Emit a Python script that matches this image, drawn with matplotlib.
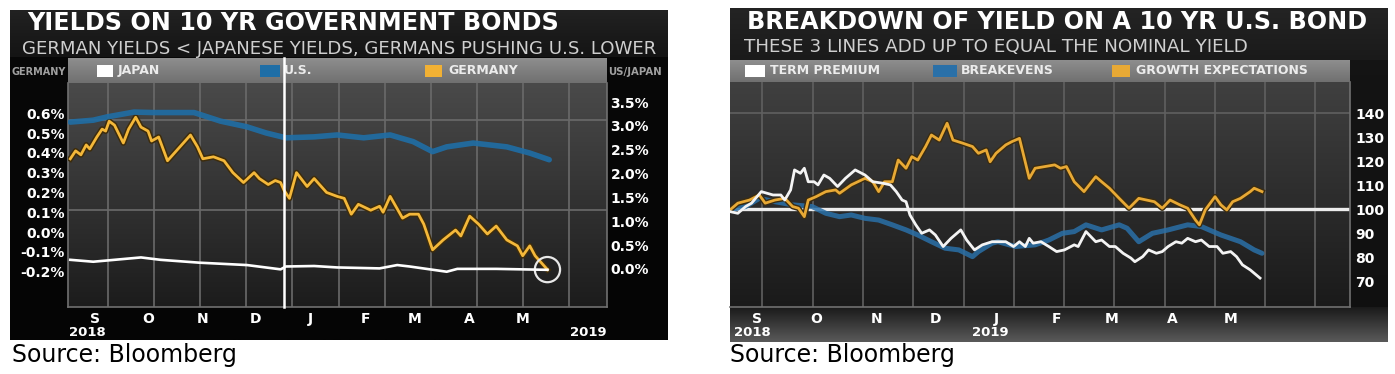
import numpy as np
import pandas as pd
import matplotlib
matplotlib.use('Agg')
import matplotlib.pyplot as plt
import matplotlib.patheffects as pe
from matplotlib.colors import LinearSegmentedColormap
from matplotlib.patches import Rectangle
from matplotlib.transforms import blended_transform_factory

# ---- data (x = days since 2018-09-01) ----
start_date = pd.Timestamp('2018-09-01')

ger_days = [0, 3, 6, 9, 11, 15, 18, 20, 22, 25, 30, 33, 37, 40, 44, 46, 50, 55, 61, 68,
            72, 75, 81, 87, 92, 98, 104, 107, 112, 116, 119, 121, 124, 128, 134, 138, 145, 151, 155, 159,
            163, 170, 175, 177, 181, 188, 192, 197, 200, 205, 211, 218, 221, 226, 231, 236, 241, 247, 253, 256,
            260, 263, 268, 270]
ger_vals = [0.37, 0.41, 0.39, 0.44, 0.42, 0.48, 0.52, 0.51, 0.56, 0.54, 0.45, 0.52, 0.58, 0.53, 0.51, 0.46, 0.48, 0.36, 0.42, 0.49,
            0.43, 0.37, 0.38, 0.36, 0.30, 0.25, 0.30, 0.27, 0.24, 0.26, 0.25, 0.21, 0.17, 0.30, 0.23, 0.27, 0.20, 0.18, 0.17, 0.09,
            0.14, 0.11, 0.13, 0.10, 0.18, 0.07, 0.09, 0.09, 0.04, -0.09, -0.04, 0.01, -0.02, 0.08, 0.04, -0.01, 0.03, -0.04, -0.07, -0.12,
            -0.07, -0.12, -0.17, -0.19]

us_days = [0, 13, 21, 36, 47, 70, 85, 100, 111, 122, 138, 151, 166, 181, 194, 205, 213, 228, 247, 260, 271]
us_vals = [3.08, 3.12, 3.19, 3.29, 3.28, 3.28, 3.10, 2.98, 2.85, 2.75, 2.77, 2.81, 2.75, 2.81, 2.67, 2.46, 2.56, 2.64, 2.56, 2.43, 2.29]

jp_days = [0, 13, 40, 51, 73, 100, 119, 122, 138, 151, 175, 185, 192, 213, 219, 241, 270]
jp_vals = [0.19, 0.15, 0.24, 0.19, 0.13, 0.08, -0.01, 0.05, 0.06, 0.03, 0.01, 0.08, 0.05, -0.06, 0.00, 0.00, -0.02]

growth_days = [0, 4, 10, 15, 18, 23, 28, 32, 35, 38, 40, 44, 49, 54, 56, 62, 69, 73, 76, 79,
               83, 86, 90, 93, 96, 100, 103, 107, 111, 114, 119, 124, 127, 131, 133, 136, 141, 144, 148, 153,
               156, 161, 166, 169, 172, 176, 181, 187, 190, 194, 199, 204, 209, 213, 217, 221, 225, 230, 234, 238,
               240, 243, 248, 251, 254, 257, 261, 266, 268, 272]
growth_vals = [99.8, 102.6, 103.9, 106.0, 102.6, 103.9, 104.6, 101.2, 100.5, 97.0, 103.9, 105.3, 107.4, 108.1, 106.7, 110.2, 112.9, 111.5, 107.4, 111.5,
               111.5, 120.5, 117.1, 121.9, 120.5, 126.1, 130.9, 128.8, 135.8, 128.8, 127.5, 126.1, 123.3, 124.7, 119.8, 123.3, 126.8, 128.1, 129.5, 112.9,
               117.1, 117.8, 118.5, 117.1, 117.8, 111.5, 107.4, 113.6, 111.5, 108.8, 104.6, 100.5, 104.6, 103.9, 103.2, 100.5, 103.9, 101.9, 100.5, 95.6,
               93.6, 99.8, 105.3, 101.9, 99.8, 103.2, 104.6, 107.4, 108.8, 107.4]

term_days = [0, 4, 8, 11, 16, 22, 26, 28, 31, 33, 36, 38, 40, 43, 45, 48, 51, 55, 59, 64,
             69, 73, 78, 82, 85, 88, 90, 92, 95, 98, 102, 105, 109, 113, 118, 121, 125, 129, 134, 137,
             141, 145, 148, 151, 153, 155, 159, 163, 167, 171, 176, 178, 182, 187, 190, 194, 197, 201, 205, 207,
             211, 214, 218, 221, 224, 228, 231, 234, 238, 241, 245, 249, 252, 256, 259, 262, 266, 271]
term_vals = [99.1, 98.4, 101.2, 102.6, 107.4, 106.0, 106.0, 103.9, 108.1, 116.4, 115.0, 117.1, 111.5, 111.5, 110.2, 114.3, 112.9, 109.5, 112.9, 116.4,
             114.3, 111.5, 110.9, 110.2, 107.4, 103.9, 103.2, 97.7, 93.6, 90.1, 91.5, 89.4, 84.6, 88.0, 91.5, 87.3, 83.2, 85.3, 86.6, 86.6,
             86.6, 84.6, 86.6, 84.6, 88.0, 86.0, 86.6, 84.6, 82.5, 83.2, 85.3, 84.6, 90.8, 86.6, 87.3, 84.6, 84.6, 81.8, 79.8, 78.3,
             80.4, 83.2, 81.8, 82.5, 84.6, 86.6, 86.0, 88.0, 86.6, 87.3, 84.6, 84.6, 81.8, 82.5, 80.4, 77.0, 74.9, 71.5]

be_days = [0, 8, 15, 23, 32, 42, 49, 56, 62, 69, 76, 83, 90, 96, 103, 110, 117, 124, 127, 134,
           137, 146, 156, 163, 170, 176, 182, 190, 199, 203, 209, 216, 224, 234, 241, 251, 261, 268, 272]
be_vals = [99.8, 101.2, 104.6, 103.2, 101.9, 101.2, 98.4, 97.0, 97.7, 96.3, 95.6, 93.6, 91.5, 89.4, 86.6, 83.9, 83.2, 80.4, 82.5, 86.0,
           86.6, 84.6, 85.3, 87.3, 90.1, 90.8, 93.6, 91.5, 93.6, 92.2, 86.6, 90.1, 91.5, 93.6, 92.9, 89.4, 86.6, 83.2, 81.8]

month_letters = ['S', 'O', 'N', 'D', 'J', 'F', 'M', 'A', 'M']
month_dates = ['2018-09-15', '2018-10-15', '2018-11-15', '2018-12-15', '2019-01-15',
               '2019-02-15', '2019-03-15', '2019-04-15', '2019-05-15']
month_days = [(pd.Timestamp(d) - start_date).days for d in month_dates]
year_switch = (pd.Timestamp('2019-01-01') - start_date).days - 1

left_ticks = [-0.2, -0.1, 0.0, 0.1, 0.2, 0.3, 0.4, 0.5, 0.6]
right_ticks = [0.0, 0.5, 1.0, 1.5, 2.0, 2.5, 3.0, 3.5]
index_ticks = [70, 80, 90, 100, 110, 120, 130, 140]

# ---- layout helpers (pixel boxes on a 1395x374 canvas) ----
W, H = 1395, 374
fig = plt.figure(figsize=(W / 100, H / 100), dpi=100, facecolor='white')


def box(x0, y0, x1, y1):
    return [x0 / W, 1 - y1 / H, (x1 - x0) / W, (y1 - y0) / H]


def shade(x0, y0, x1, y1, top, bottom):
    a = fig.add_axes(box(x0, y0, x1, y1))
    a.set_axis_off()
    cmap = LinearSegmentedColormap.from_list('g', [top, bottom])
    a.imshow(np.linspace(0, 1, 256).reshape(-1, 1), cmap=cmap, aspect='auto',
             extent=[0, 1, 0, 1], origin='upper')
    a.set_xlim(0, 1)
    a.set_ylim(0, 1)
    return a


def ftext(x, y, s, **kw):
    fig.text(x / W, 1 - y / H, s, **kw)


def legend_band(x0, y0, x1, y1, items):
    shade(x0, y0, x1, y1, '#8e8e8e', '#707070')
    a = fig.add_axes(box(x0, y0, x1, y1))
    a.set_axis_off()
    a.set_xlim(x0, x1)
    a.set_ylim(y1, y0)
    yc = (y0 + y1) / 2
    for label, color, sx0, sx1, tx in items:
        a.add_patch(Rectangle((sx0, yc - 6), sx1 - sx0, 12, color=color, lw=0))
        a.text(tx, yc, label, color='#ececec', fontsize=9, fontweight='bold', va='center')


def style_axis(a):
    a.set_facecolor('none')
    for s in a.spines.values():
        s.set_visible(False)
    a.tick_params(length=0, colors='white', labelsize=10)


# ================= left panel =================
shade(10, 10, 668, 340, '#080808', '#050505')
shade(10, 10, 668, 57, '#222222', '#141414')
legend_band(68, 58, 607, 83, [('JAPAN', 'white', 97, 113, 118),
                              ('U.S.', '#1f6ea6', 260, 280, 284),
                              ('GERMANY', '#f2b134', 425, 442, 448)])
shade(68, 83, 607, 307, '#4a4a4a', '#1c1c1c')

ftext(27, 23, 'YIELDS ON 10 YR GOVERNMENT BONDS', color='white', fontsize=17.2,
      fontweight='bold', va='center')
ftext(22, 49, 'GERMAN YIELDS < JAPANESE YIELDS, GERMANS PUSHING U.S. LOWER',
      color='#cfcfcf', fontsize=13.1, va='center')
ftext(12, 72, 'GERMANY', color='#a0a0a0', fontsize=7, fontweight='bold', va='center')
ftext(608, 72, 'US/JAPAN', color='#a0a0a0', fontsize=7.3, fontweight='bold', va='center')

ax = fig.add_axes(box(68, 83, 607, 307))
style_axis(ax)
for side in ['left', 'right', 'bottom']:
    ax.spines[side].set_visible(True)
    ax.spines[side].set_color('#707070')
    ax.spines[side].set_linewidth(1.2)
ax.set_xlim(-1.3, 303.7)
ax.set_ylim(-0.379, 0.753)
for d in np.arange(21.3, 290, 26.1):
    ax.axvline(d, color='#6a6a6a', lw=1.2, zorder=1)
for g in [0.566, 0.111]:
    ax.axhline(g, color='#6a6a6a', lw=1.2, zorder=1)

ax.plot(ger_days, ger_vals, color='#f4b83a', lw=2.0, zorder=4,
        path_effects=[pe.Stroke(linewidth=4.2, foreground='#3d2c0c'), pe.Normal()])
ax.scatter([ger_days[-1]], [ger_vals[-1]], s=330, facecolors='none',
           edgecolors='#e8e8e8', linewidths=1.6, zorder=6)
ax.set_yticks(left_ticks)
ax.set_yticklabels([f'{v:.1f}%' for v in left_ticks])
ax.tick_params(axis='y', pad=2.5)
ax.set_xticks(month_days)
ax.set_xticklabels(month_letters)
ax.tick_params(axis='x', pad=3.5)
for lab in ax.get_xticklabels() + ax.get_yticklabels():
    lab.set_fontweight('bold')

ax2 = ax.twinx()
style_axis(ax2)
ax2.set_ylim(-0.80, 3.90)
ax2.plot(us_days, us_vals, color='#1f6ea6', lw=4.0, alpha=0.9, zorder=2,
         solid_capstyle='round')
ax2.plot(jp_days, jp_vals, color='white', lw=1.9, zorder=3)
ax2.axvline(year_switch, ymin=0, ymax=1.11, color='white', lw=1.8, clip_on=False, zorder=5)
ax2.set_yticks(right_ticks)
ax2.set_yticklabels([f'{v:.1f}%' for v in right_ticks])
ax2.tick_params(axis='y', pad=2.5)
for lab in ax2.get_yticklabels():
    lab.set_fontweight('bold')

tr = blended_transform_factory(ax.transData, ax.transAxes)
ax.text(9.5, -0.112, '2018', transform=tr, ha='center', va='center', color='white',
        fontsize=9.5, fontweight='bold')
ax.text(293, -0.112, '2019', transform=tr, ha='center', va='center', color='white',
        fontsize=9.5, fontweight='bold')

ftext(12, 355, 'Source: Bloomberg', color='black', fontsize=17, va='center')

# ================= right panel =================
shade(730, 8, 1388, 342, '#151515', '#101010')
shade(730, 8, 1388, 60, '#242424', '#1a1a1a')
legend_band(730, 60, 1350, 82, [('TERM PREMIUM', 'white', 745, 765, 770),
                                ('BREAKEVENS', '#2a70a8', 933, 957, 961),
                                ('GROWTH EXPECTATIONS', '#e8a935', 1112, 1130, 1136)])
shade(730, 82, 1350, 307, '#404040', '#1a1a1a')
shade(730, 307, 1388, 342, '#1a1a1a', '#5a5a5a')

ftext(747, 22, 'BREAKDOWN OF YIELD ON A 10 YR U.S. BOND', color='white', fontsize=17.2,
      fontweight='bold', va='center')
ftext(744, 47, 'THESE 3 LINES ADD UP TO EQUAL THE NOMINAL YIELD', color='#cfcfcf',
      fontsize=13.2, va='center')

axr = fig.add_axes(box(730, 82, 1350, 307))
style_axis(axr)
for side in ['right', 'bottom']:
    axr.spines[side].set_visible(True)
    axr.spines[side].set_color('#707070')
    axr.spines[side].set_linewidth(1.2)
axr.set_xlim(0, 317)
axr.set_ylim(59.5, 152.9)
for d in np.arange(16.6, 305, 25.7):
    axr.axvline(d, color='#606060', lw=1.2, zorder=1)
axr.axhline(140, color='#606060', lw=1.2, zorder=1)
axr.axhline(100, color='#ececec', lw=2.4, zorder=2)

axr.plot(be_days, be_vals, color='#2a70a8', lw=3.6, alpha=0.85, zorder=3,
         solid_capstyle='round')
axr.plot(growth_days, growth_vals, color='#e8a935', lw=2.0, zorder=4,
         path_effects=[pe.Stroke(linewidth=4.0, foreground='#3a2c12'), pe.Normal()])
axr.plot(term_days, term_vals, color='#f4f4f4', lw=2.0, zorder=5)

axr.yaxis.tick_right()
axr.set_yticks(index_ticks)
axr.set_yticklabels([str(v) for v in index_ticks])
axr.tick_params(axis='y', pad=4)
axr.set_xticks(month_days)
axr.set_xticklabels(month_letters)
axr.tick_params(axis='x', pad=3.5)
for lab in axr.get_xticklabels() + axr.get_yticklabels():
    lab.set_fontweight('bold')

trr = blended_transform_factory(axr.transData, axr.transAxes)
axr.text(11.4, -0.115, '2018', transform=trr, ha='center', va='center', color='white',
         fontsize=9.5, fontweight='bold')
axr.text(133, -0.115, '2019', transform=trr, ha='center', va='center', color='white',
         fontsize=9.5, fontweight='bold')

ftext(730, 355, 'Source: Bloomberg', color='black', fontsize=17, va='center')

fig.savefig('out.png', dpi=100, facecolor='white')
